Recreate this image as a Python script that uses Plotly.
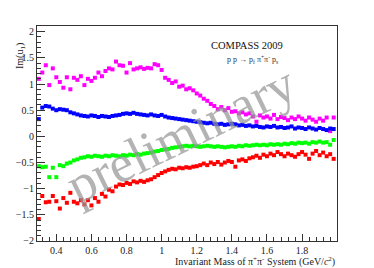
import plotly.graph_objects as go

mass = [round(0.30 + 0.02 * i, 2) for i in range(85)]

im_magenta = [1.10, 1.22, 1.36, 0.98, 1.30, 1.13, 1.04, 0.93, 1.13, 0.90,
              1.12, 1.08, 1.15, 0.98, 1.10, 1.06, 1.12, 1.22, 1.15, 1.25,
              1.30, 1.28, 1.43, 1.36, 1.35, 1.22, 1.40, 1.28, 1.30, 1.32,
              1.29, 1.31, 1.30, 1.38, 1.36, 1.27, 1.12, 1.08, 1.02, 1.05,
              0.95, 0.97, 0.90, 0.92, 0.88, 0.82, 0.78, 0.72, 0.68, 0.62,
              0.58, 0.52, 0.56, 0.50, 0.54, 0.47, 0.48, 0.44, 0.46, 0.42,
              0.44, 0.38, 0.28, 0.40, 0.36, 0.38, 0.34, 0.41, 0.33, 0.37,
              0.35, 0.31, 0.36, 0.33, 0.38, 0.34, 0.30, 0.36, 0.32, 0.28,
              0.34, 0.30, 0.36, 0.10, 0.36]

im_blue = [0.33, 0.55, 0.58, 0.57, 0.53, 0.50, 0.52, 0.51, 0.50, 0.46,
           0.44, 0.42, 0.40, 0.39, 0.38, 0.40, 0.39, 0.37, 0.39, 0.38,
           0.37, 0.39, 0.40, 0.41, 0.43, 0.44, 0.43, 0.45, 0.43, 0.42,
           0.41, 0.40, 0.42, 0.40, 0.39, 0.41, 0.38, 0.36, 0.35, 0.34,
           0.33, 0.32, 0.31, 0.30, 0.29, 0.28, 0.27, 0.26, 0.25, 0.26,
           0.24, 0.23, 0.24, 0.22, 0.23, 0.24, 0.23, 0.21, 0.22, 0.20,
           0.21, 0.19, 0.20, 0.18, 0.17, 0.19, 0.18, 0.20, 0.17, 0.18,
           0.16, 0.17, 0.19, 0.15, 0.17, 0.16, 0.14, 0.17, 0.15, 0.13,
           0.16, 0.14, 0.12, 0.15, 0.14]

im_green = [-0.57, -0.59, -0.58, -0.78, -0.60, -0.78, -0.55, -0.57, -0.52, -0.50,
            -0.46, -0.44, -0.41, -0.40, -0.38, -0.39, -0.37, -0.38, -0.39, -0.37,
            -0.38, -0.36, -0.37, -0.38, -0.36, -0.37, -0.35, -0.36, -0.34, -0.35,
            -0.33, -0.32, -0.31, -0.29, -0.28, -0.26, -0.25, -0.24, -0.22, -0.21,
            -0.20, -0.19, -0.18, -0.19, -0.18, -0.19, -0.20, -0.19, -0.18, -0.19,
            -0.20, -0.19, -0.20, -0.21, -0.20, -0.19, -0.20, -0.18, -0.19, -0.17,
            -0.18, -0.17, -0.16, -0.17, -0.16, -0.17, -0.15, -0.16, -0.15, -0.16,
            -0.14, -0.15, -0.13, -0.14, -0.12, -0.13, -0.12, -0.14, -0.11, -0.12,
            -0.10, -0.12, -0.11, -0.16, -0.07]

im_red = [-1.58, -1.14, -1.26, -1.25, -1.14, -1.24, -1.38, -1.18, -1.27, -1.08,
          -1.25, -1.28, -1.22, -1.30, -1.22, -1.32, -1.18, -1.25, -1.10, -1.15,
          -1.02, -1.05, -0.96, -0.92, -0.93, -0.89, -0.91, -0.86, -0.88, -0.85,
          -0.87, -0.84, -0.82, -0.78, -0.74, -0.70, -0.67, -0.64, -0.62, -0.63,
          -0.60, -0.61, -0.59, -0.60, -0.58, -0.57, -0.55, -0.52, -0.55, -0.50,
          -0.53, -0.49, -0.54, -0.50, -0.47, -0.49, -0.58, -0.46, -0.44, -0.47,
          -0.42, -0.40, -0.37, -0.41, -0.35, -0.38, -0.33, -0.36, -0.30, -0.34,
          -0.38, -0.33, -0.36, -0.39, -0.34, -0.30, -0.35, -0.43, -0.33, -0.28,
          -0.36, -0.31, -0.38, -0.34, -0.43]

series = [
    (im_magenta, "#ff00ff"),
    (im_blue, "#0000ff"),
    (im_green, "#00ff00"),
    (im_red, "#ff0000"),
]

serif = "Liberation Serif, Times New Roman, serif"

fig = go.Figure()
for vals, col in series:
    fig.add_trace(go.Scatter(
        x=mass, y=vals, mode="markers", cliponaxis=False,
        marker=dict(symbol="square", size=4, color=col, line=dict(width=0)),
        showlegend=False, hoverinfo="skip"))

axis_common = dict(
    showgrid=False, zeroline=False, showline=True, linecolor="#333333",
    linewidth=1, mirror=True, ticks="inside", tickcolor="#333333",
    tickfont=dict(family=serif, size=10, color="#222222"),
)

fig.update_xaxes(range=[0.29, 1.999], tickmode="linear", tick0=0.4, dtick=0.2,
                 ticklen=7, ticklabelstandoff=0,
                 minor=dict(dtick=0.04, ticks="inside", ticklen=4,
                            tickcolor="#333333"),
                 **axis_common)
fig.update_yaxes(range=[-2.0005, 2.11], tickmode="linear", tick0=-2, dtick=0.5,
                 ticklen=8,
                 minor=dict(dtick=0.1, ticks="inside", ticklen=4,
                            tickcolor="#333333"),
                 **axis_common)

fig.update_layout(
    width=374, height=268,
    margin=dict(l=37, r=37, t=26, b=27),
    paper_bgcolor="white", plot_bgcolor="white",
    annotations=[
        dict(text="preliminary", xref="paper", yref="paper", x=0.48, y=0.5,
             showarrow=False, textangle=-26,
             font=dict(family=serif, size=53, color="rgba(150,150,150,0.72)")),
        dict(text="COMPASS 2009", xref="paper", yref="paper", x=0.827, y=0.945,
             showarrow=False, font=dict(family=serif, size=10.5, color="#111111")),
        dict(text="p p \u2192 p<sub>f</sub> \u03c0<sup>+</sup>\u03c0<sup>-</sup> p<sub>s</sub>",
             xref="paper", yref="paper", x=0.81, y=0.88, showarrow=False,
             font=dict(family=serif, size=8, color="#333333")),
        dict(text="Im(u<sub>1</sub>)", xref="paper", yref="paper",
             x=-0.085, y=0.93, showarrow=False, textangle=-90,
             font=dict(family=serif, size=10, color="#222222")),
        dict(text="Invariant Mass of \u03c0<sup>+</sup>\u03c0<sup>-</sup> System (GeV/<i>c</i><sup>2</sup>)",
             xref="paper", yref="paper", x=1.0, y=-0.055, xanchor="right",
             yanchor="top", showarrow=False,
             font=dict(family=serif, size=10, color="#222222")),
    ],
)

fig.write_html("out.html",
               config={"displayModeBar": False},
               post_script="document.body.style.margin='0px';"
                           "document.body.style.padding='0px';")
